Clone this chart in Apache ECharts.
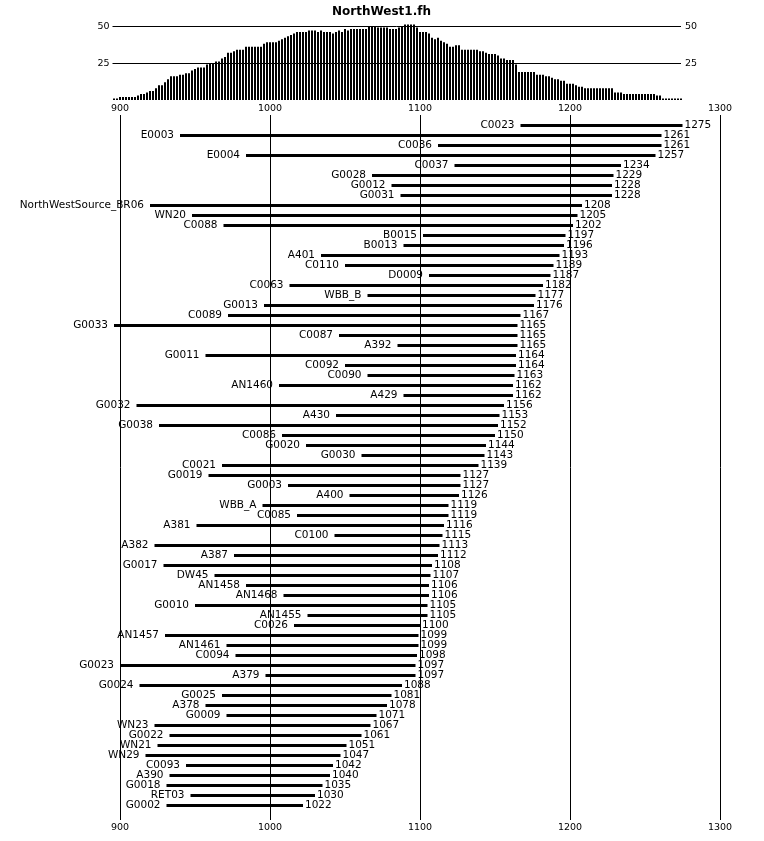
<!DOCTYPE html>
<html>
<head>
<meta charset="utf-8">
<script src="https://cdn.jsdelivr.net/npm/echarts@6/dist/echarts.min.js"></script>
<style>
html,body{margin:0;padding:0;background:#fff;}
#c{width:764px;height:841px;}
</style>
</head>
<body>
<div id="c"></div>
<script>
const names = ["C0023","E0003","C0036","E0004","C0037","G0028","G0012","G0031","NorthWestSource_BR06","WN20","C0088","B0015","B0013","A401","C0110","D0009","C0063","WBB_B","G0013","C0089","G0033","C0087","A392","G0011","C0092","C0090","AN1460","A429","G0032","A430","G0038","C0086","G0020","G0030","C0021","G0019","G0003","A400","WBB_A","C0085","A381","C0100","A382","A387","G0017","DW45","AN1458","AN1468","G0010","AN1455","C0026","AN1457","AN1461","C0094","G0023","A379","G0024","G0025","A378","G0009","WN23","G0022","WN21","WN29","C0093","A390","G0018","RET03","G0002"];
const starts = [1167,940,1112,984,1123,1068,1081,1087,920,948,969,1102,1089,1034,1050,1106,1013,1065,996,972,896,1046,1085,957,1050,1065,1006,1089,911,1044,926,1008,1024,1061,968,959,1012,1053,995,1018,951,1043,923,976,929,963,984,1009,950,1025,1016,930,971,977,900,997,913,968,957,971,923,933,925,917,944,933,931,947,931];
const ends = [1275,1261,1261,1257,1234,1229,1228,1228,1208,1205,1202,1197,1196,1193,1189,1187,1182,1177,1176,1167,1165,1165,1165,1164,1164,1163,1162,1162,1156,1153,1152,1150,1144,1143,1139,1127,1127,1126,1119,1119,1116,1115,1113,1112,1108,1107,1106,1106,1105,1105,1100,1099,1099,1098,1097,1097,1088,1081,1078,1071,1067,1061,1051,1047,1042,1040,1035,1030,1022];
const xTicks = [900,1000,1100,1200,1300];
const depthTicks = [25,50];
const title = "NorthWest1.fh";

// sample depth (number of series covering each year), derived from the ranges above
const first = Math.min(...starts), last = Math.max(...ends);
const depth = [];
for (let y = first; y <= last; y++) {
  let c = 0;
  for (let i = 0; i < starts.length; i++) if (starts[i] <= y && y <= ends[i]) c++;
  if (y % 2 === 0) depth.push([y, c]);
}

const rows = names.map((n, i) => [starts[i], i, ends[i]]);
const FONT = '"DejaVu Sans", sans-serif';
const SMALL = '9.5px ' + FONT;

const chart = echarts.init(document.getElementById('c'), null, {renderer:'canvas'});
chart.setOption({
  animation:false,
  backgroundColor:'#fff',
  title:{text:title, left:327, top:1, textStyle:{fontFamily:FONT, fontSize:12, fontWeight:'bold', color:'#000'}},
  grid:[
    {left:120, width:600, top:26, height:74},
    {left:120, width:600, top:115, height:705}
  ],
  xAxis:[
    {gridIndex:0, type:'value', min:xTicks[0], max:xTicks[xTicks.length-1], interval:100, show:false},
    {gridIndex:1, type:'value', min:xTicks[0], max:xTicks[xTicks.length-1], interval:100, position:'bottom',
      axisLine:{show:false}, axisTick:{show:false},
      axisLabel:{margin:3, color:'#000', fontFamily:FONT, fontSize:9.5, formatter:v => String(v)},
      splitLine:{show:true, lineStyle:{color:'#000', width:1}}},
    {gridIndex:1, type:'value', min:xTicks[0], max:xTicks[xTicks.length-1], interval:100, position:'top',
      axisLine:{show:false}, axisTick:{show:false},
      axisLabel:{margin:1, color:'#000', fontFamily:FONT, fontSize:9.5, formatter:v => String(v)},
      splitLine:{show:false}}
  ],
  yAxis:[
    {gridIndex:0, type:'value', min:0, max:50, show:false},
    {gridIndex:1, type:'value', min:-1, max:69.5, inverse:true, show:false}
  ],
  series:[
    {type:'custom', xAxisIndex:0, yAxisIndex:0, data:depthTicks.map(v => [v]), clip:false, silent:true, z:3,
      encode:{y:0},
      renderItem:function(params, api){
        const v = api.value(0);
        const a = api.coord([first-1, v]), b = api.coord([last-1, v]);
        const yy = Math.round(a[1]) + 0.5;
        return {type:'group', children:[
          {type:'line', shape:{x1:a[0], y1:yy, x2:b[0], y2:yy}, style:{stroke:'#000', lineWidth:1}},
          {type:'text', style:{text:String(v), x:a[0]-3, y:yy, align:'right', verticalAlign:'middle', font:SMALL, fill:'#000'}},
          {type:'text', style:{text:String(v), x:b[0]+4, y:yy, align:'left', verticalAlign:'middle', font:SMALL, fill:'#000'}}
        ]};
      }},
    {type:'bar', xAxisIndex:0, yAxisIndex:0, data:depth, barWidth:2, clip:false,
      itemStyle:{color:'#000'}, silent:true},
    {type:'custom', xAxisIndex:1, yAxisIndex:1, data:rows, clip:false, silent:true,
      encode:{x:[0,2], y:1},
      renderItem:function(params, api){
        const s = api.value(0), i = api.value(1), e = api.value(2);
        const p1 = api.coord([s, i]), p2 = api.coord([e, i]);
        const yy = Math.round(p1[1]) + 0.5;
        return {type:'group', children:[
          {type:'line', shape:{x1:p1[0], y1:yy, x2:p2[0], y2:yy}, style:{stroke:'#000', lineWidth:3}},
          {type:'text', style:{text:names[i], x:p1[0]-6, y:yy, align:'right', verticalAlign:'middle', font:'10.5px ' + FONT, fill:'#000'}},
          {type:'text', style:{text:String(e), x:p2[0]+2, y:yy, align:'left', verticalAlign:'middle', font:'10.5px ' + FONT, fill:'#000'}}
        ]};
      }}
  ]
});
</script>
</body>
</html>
